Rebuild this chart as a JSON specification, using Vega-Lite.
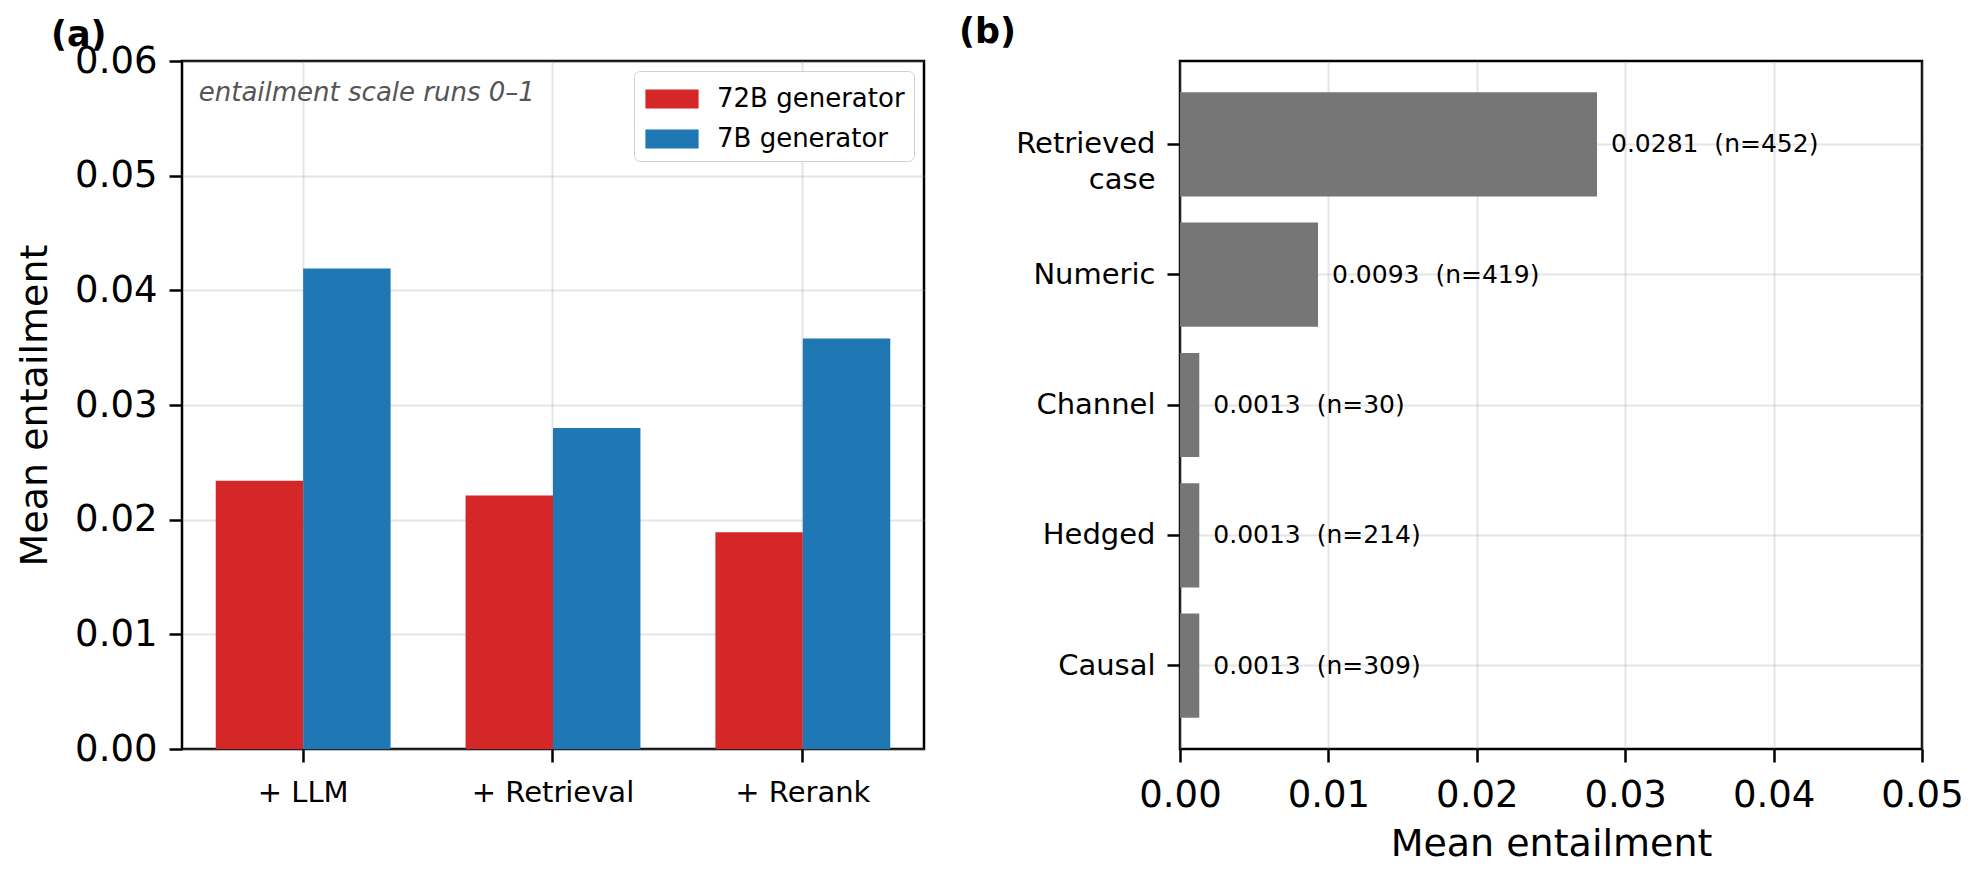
{
  "$schema": "https://vega.github.io/schema/vega-lite/v6.json",
  "padding": {"left": 15, "top": 13, "right": 10, "bottom": 0},
  "background": "white",
  "bounds": "flush",
  "spacing": 256,
  "resolve": {"scale": {"color": "independent"}, "legend": {"color": "independent"}},
  "config": {
    "font": "DejaVu Sans",
    "view": {"stroke": "black", "strokeWidth": 2.5},
    "axis": {
      "domain": false,
      "tickColor": "black",
      "tickWidth": 2.5,
      "tickSize": 13,
      "labelColor": "black",
      "titleColor": "black",
      "titleFontWeight": "normal",
      "gridColor": "#999999",
      "gridOpacity": 0.25,
      "gridWidth": 2,
      "zindex": 1,
      "labelFlush": false,
      "labelOverlap": false,
      "labelFont": "DejaVu Sans",
      "titleFont": "DejaVu Sans"
    },
    "title": {"font": "DejaVu Sans", "fontWeight": "bold", "fontSize": 35, "anchor": "start", "frame": "group", "color": "black"}
  },
  "hconcat": [
    {
      "width": 742,
      "height": 688,
      "title": {"text": "(a)", "dx": -131, "offset": -11},
      "data": {"values": [
        {"stage": "+ LLM", "generator": "72B generator", "mean": 0.0234},
        {"stage": "+ LLM", "generator": "7B generator", "mean": 0.0419},
        {"stage": "+ Retrieval", "generator": "72B generator", "mean": 0.0221},
        {"stage": "+ Retrieval", "generator": "7B generator", "mean": 0.0280},
        {"stage": "+ Rerank", "generator": "72B generator", "mean": 0.0189},
        {"stage": "+ Rerank", "generator": "7B generator", "mean": 0.0358}
      ]},
      "layer": [
        {
          "mark": {"type": "bar"},
          "encoding": {
            "x": {"field": "stage", "type": "nominal", "sort": null,
              "scale": {"paddingInner": 0.3, "paddingOuter": 0.135},
              "axis": {"title": null, "labelAngle": 0, "labelFontSize": 29, "labelPadding": 16, "grid": true, "bandPosition": 0.5}},
            "xOffset": {"field": "generator", "type": "nominal", "sort": null, "scale": {"paddingInner": 0, "paddingOuter": 0}},
            "y": {"field": "mean", "type": "quantitative",
              "scale": {"domain": [0, 0.06], "nice": false},
              "axis": {"title": "Mean entailment", "format": ".2f", "values": [0, 0.01, 0.02, 0.03, 0.04, 0.05, 0.06], "labelFontSize": 37, "titleFontSize": 38, "labelPadding": 12, "titlePadding": 20}},
            "color": {"field": "generator", "type": "nominal", "sort": null,
              "scale": {"domain": ["72B generator", "7B generator"], "range": ["#d62728", "#1f77b4"]},
              "legend": {"title": null, "orient": "top-right", "offset": 10, "labelFontSize": 26, "labelColor": "black", "labelLimit": 400,
                "symbolType": "M-1.4,-0.5H1.4V0.5H-1.4Z", "symbolSize": 1444, "symbolStrokeWidth": 0, "symbolOpacity": 1,
                "padding": 9, "symbolOffset": 10, "labelOffset": 26, "rowPadding": 8,
                "strokeColor": "#d0d0d0", "fillColor": "white", "cornerRadius": 6}}
          }
        },
        {
          "data": {"values": [{"note": "entailment scale runs 0–1"}]},
          "mark": {"type": "text", "align": "left", "baseline": "alphabetic", "fontStyle": "italic", "fontSize": 26, "color": "#555555", "dx": -17},
          "encoding": {
            "x": {"datum": "+ LLM", "type": "nominal", "bandPosition": 0},
            "y": {"datum": 0.0565, "type": "quantitative"},
            "text": {"field": "note"}
          }
        }
      ]
    },
    {
      "width": 742,
      "height": 688,
      "title": {"text": "(b)", "dx": -221, "offset": 11},
      "data": {"values": [
        {"type": "Retrieved case", "mean": 0.0281, "label": "0.0281\u00a0 (n=452)"},
        {"type": "Numeric", "mean": 0.0093, "label": "0.0093\u00a0 (n=419)"},
        {"type": "Channel", "mean": 0.0013, "label": "0.0013\u00a0 (n=30)"},
        {"type": "Hedged", "mean": 0.0013, "label": "0.0013\u00a0 (n=214)"},
        {"type": "Causal", "mean": 0.0013, "label": "0.0013\u00a0 (n=309)"}
      ]},
      "encoding": {
        "y": {"field": "type", "type": "nominal", "sort": null,
          "scale": {"paddingInner": 0.2, "paddingOuter": 0.24},
          "axis": {"title": null, "labelFontSize": 29, "labelPadding": 12, "grid": true, "bandPosition": 0.5,
            "labelExpr": "datum.value == 'Retrieved case' ? ['Retrieved', 'case'] : datum.value", "labelLineHeight": 36}},
        "x": {"field": "mean", "type": "quantitative",
          "scale": {"domain": [0, 0.05], "nice": false},
          "axis": {"title": "Mean entailment", "format": ".2f", "values": [0, 0.01, 0.02, 0.03, 0.04, 0.05], "labelFontSize": 37, "titleFontSize": 38, "labelPadding": 15, "titlePadding": 12}}
      },
      "layer": [
        {"mark": {"type": "bar", "color": "#767676"}},
        {"mark": {"type": "text", "align": "left", "baseline": "middle", "dx": 14, "fontSize": 25, "color": "black"},
         "encoding": {"text": {"field": "label"}}}
      ]
    }
  ]
}
